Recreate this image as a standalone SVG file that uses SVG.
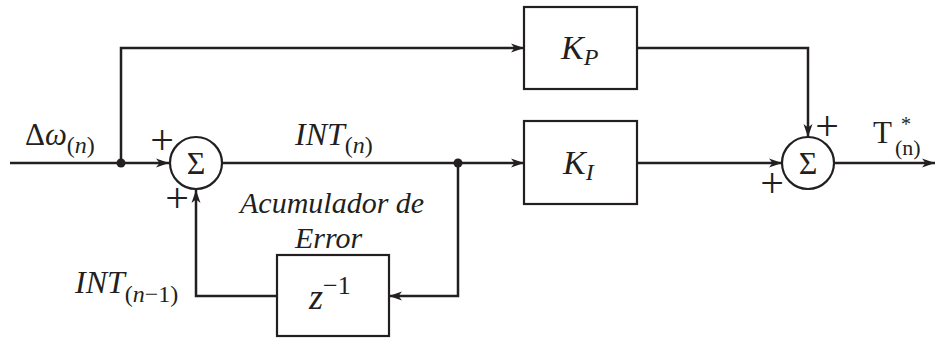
<svg xmlns="http://www.w3.org/2000/svg" width="937" height="339" viewBox="0 0 937 339">
<style>
.ln{fill:none;stroke:#231f20;stroke-width:2.5}
.bx{fill:#fff;stroke:#231f20;stroke-width:2.2}
.t{font-family:"Liberation Serif","Times New Roman",serif;fill:#231f20}
.i{font-style:italic}
.pl{font-family:"Liberation Serif","Times New Roman",serif;font-size:42px;fill:#231f20;text-anchor:middle}
.sg{font-family:"Liberation Serif","Times New Roman",serif;font-size:32px;fill:#231f20;text-anchor:middle}
</style>
<defs>
<marker id="ah" markerUnits="userSpaceOnUse" markerWidth="14" markerHeight="10" refX="13" refY="5" orient="auto">
<path d="M0,0.5 L13,5 L0,9.5 L3.5,5 z" fill="#231f20"/>
</marker>
</defs>
<g id="connectors">
<path class="ln" d="M10,163 H169" marker-end="url(#ah)"/>
<path class="ln" d="M121,163 V48 H524" marker-end="url(#ah)"/>
<path class="ln" d="M222,163 H524" marker-end="url(#ah)"/>
<path class="ln" d="M637,48 H808 V137" marker-end="url(#ah)"/>
<path class="ln" d="M637,163 H782" marker-end="url(#ah)"/>
<path class="ln" d="M834,163 H935" marker-end="url(#ah)"/>
<path class="ln" d="M458,163 V296 H389" marker-end="url(#ah)"/>
<path class="ln" d="M277,296 H196 V190" marker-end="url(#ah)"/>
<circle cx="121" cy="163" r="4.5" fill="#231f20"/>
<circle cx="458" cy="163" r="4.5" fill="#231f20"/>
</g>
<g id="sum1">
<circle cx="196" cy="163" r="26" class="bx"/>
<text class="sg" x="196" y="174">Σ</text>
<text class="pl" x="162" y="154">+</text>
<text class="pl" x="177" y="212">+</text>
</g>
<g id="kp">
<rect x="524" y="7" width="113" height="82" class="bx"/>
<text class="t i" x="561" y="59" font-size="34">K<tspan font-size="24" dy="6">P</tspan></text>
</g>
<g id="ki">
<rect x="524" y="121" width="113" height="83" class="bx"/>
<text class="t i" x="563" y="174" font-size="34">K<tspan font-size="24" dy="6">I</tspan></text>
</g>
<g id="sum2">
<circle cx="808" cy="163" r="26" class="bx"/>
<text class="sg" x="808" y="174">Σ</text>
<text class="pl" x="827" y="140">+</text>
<text class="pl" x="772" y="197">+</text>
</g>
<g id="delay">
<rect x="277" y="255" width="112" height="81" class="bx"/>
<text class="t i" x="309" y="309" font-size="36">z<tspan font-style="normal" font-size="26" dy="-15">−1</tspan></text>
</g>
<g id="labels">
<text class="t" x="25" y="145" font-size="31">Δ<tspan font-style="italic">ω</tspan><tspan font-size="24" dy="8">(<tspan font-style="italic">n</tspan>)</tspan></text>
<text class="t i" x="295" y="145" font-size="32">INT<tspan font-style="normal" font-size="24" dy="8">(<tspan font-style="italic">n</tspan>)</tspan></text>
<text class="t i" x="75" y="293" font-size="32">INT<tspan font-style="normal" font-size="24" dy="9">(<tspan font-style="italic">n</tspan>−1)</tspan></text>
<text class="t i" x="240" y="213" font-size="30">Acumulador de</text>
<text class="t i" x="295" y="248" font-size="30">Error</text>
<text class="t" x="873" y="143" font-size="31">T</text>
<text class="t" x="901" y="131" font-size="20">*</text>
<text class="t" x="895" y="155" font-size="22">(n)</text>
</g>
</svg>
